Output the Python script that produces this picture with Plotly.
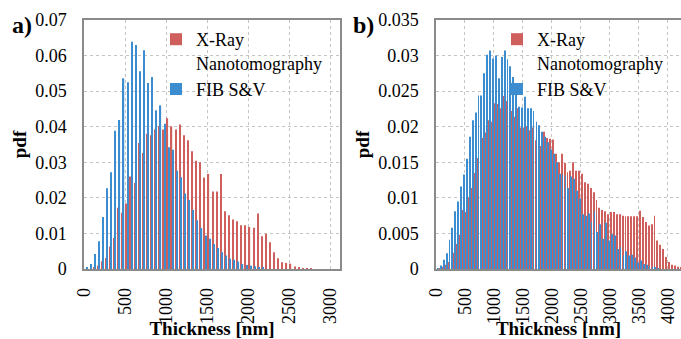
import plotly.graph_objects as go

# ---------------- data ----------------
bin_width_nm = 50  # histogram bin width (nm), both panels

# Panel a) pdf values per 50 nm bin, starting at bin 0-50 nm
xray_a = [0, 0, 0.0003, 0.001, 0.0022, 0.0031, 0.0063, 0.0087, 0.0172, 0.0158,
          0.0184, 0.026, 0.0242, 0.0354, 0.0326, 0.038, 0.0376, 0.0392, 0.0402, 0.0392,
          0.0424, 0.0401, 0.0392, 0.0406, 0.0376, 0.0362, 0.0331, 0.0304, 0.030, 0.0257,
          0.0267, 0.0218, 0.0218, 0.0267, 0.0162, 0.0151, 0.0139, 0.0134, 0.0123, 0.0123,
          0.0118, 0.0116, 0.0156, 0.0092, 0.0099, 0.0075, 0.0047, 0.003, 0.0019, 0.0017,
          0.0015, 0.0007, 0.0005, 0.0002, 0.0002, 0.0001]
fib_a = [0.0003, 0.0014, 0.0042, 0.0078, 0.0146, 0.0227, 0.0272, 0.0389, 0.0419, 0.0536,
         0.0525, 0.0639, 0.063, 0.0556, 0.0615, 0.0523, 0.054, 0.0446, 0.046, 0.0408,
         0.0342, 0.0335, 0.0276, 0.0258, 0.0212, 0.0194, 0.0166, 0.0137, 0.0115, 0.0094,
         0.0085, 0.007, 0.0059, 0.0047, 0.0038, 0.0029, 0.0026, 0.0021, 0.0014, 0.0011,
         0.0009, 0.0008, 0.0005, 0.0003]

# Panel b)
xray_b = [0, 0.0001, 0.0003, 0.0006, 0.001, 0.0015, 0.0023, 0.0035, 0.0048, 0.0083,
          0.008, 0.0101, 0.0114, 0.0135, 0.0156, 0.017, 0.0184, 0.0192, 0.0209, 0.0207,
          0.0233, 0.0232, 0.0226, 0.0243, 0.0236, 0.0208, 0.0222, 0.0214, 0.0226, 0.0199,
          0.0199, 0.0201, 0.0195, 0.0199, 0.0181, 0.0177, 0.0173, 0.0193, 0.0184, 0.0183,
          0.0182, 0.0162, 0.015, 0.0162, 0.0149, 0.0136, 0.0138, 0.015, 0.0138, 0.0138,
          0.0134, 0.0122, 0.012, 0.0114, 0.0108, 0.0097, 0.0086, 0.0083, 0.0081, 0.0077,
          0.008, 0.008, 0.0077, 0.0077, 0.0075, 0.0074, 0.0074, 0.0074, 0.0074, 0.0074,
          0.0082, 0.0073, 0.0066, 0.0061, 0.0063, 0.0075, 0.004, 0.0034, 0.0028, 0.0017,
          0.001, 0.0006, 0.0005, 0.0003, 0.0002]
fib_b = [0.0001, 0.0005, 0.0013, 0.0022, 0.0041, 0.0058, 0.0081, 0.0095, 0.0116, 0.0133,
         0.0155, 0.0186, 0.0209, 0.022, 0.0244, 0.0244, 0.0275, 0.0301, 0.0307, 0.0296,
         0.030, 0.0268, 0.0298, 0.0307, 0.0295, 0.0285, 0.027, 0.0256, 0.0228, 0.0227,
         0.0242, 0.0226, 0.0226, 0.0222, 0.0207, 0.0202, 0.0193, 0.0186, 0.0178, 0.0168,
         0.0162, 0.015, 0.0134, 0.0133, 0.0131, 0.0114, 0.013, 0.0127, 0.011, 0.0099,
         0.0077, 0.0075, 0.0078, 0.0066, 0.0081, 0.0052, 0.0063, 0.0042, 0.0065, 0.004,
         0.0049, 0.0047, 0.0028, 0.0031, 0.0019, 0.0025, 0.0019, 0.002, 0.0016, 0.0009,
         0.0012, 0.0007, 0.0006, 0.0004, 0.0003, 0.0002, 0.0001]

names = ["X-Ray<br>Nanotomography\u00a0\u00a0", "FIB S&V"]
colors = ["#cf5f5d", "#3b8dd0"]


def centers(vals):
    return [bin_width_nm * (k + 0.5) for k in range(len(vals))]


W, H = 681, 339
FONT = "Liberation Serif, Times New Roman, serif"

fig = go.Figure()
fig.add_bar(x=centers(xray_a), y=xray_a, name=names[0], marker_color=colors[0],
            marker_line_width=0, xaxis="x", yaxis="y", legend="legend", offsetgroup="a1")
fig.add_bar(x=centers(fib_a), y=fib_a, name=names[1], marker_color=colors[1],
            marker_line_width=0, xaxis="x", yaxis="y", legend="legend", offsetgroup="a2")
fig.add_bar(x=centers(xray_b), y=xray_b, name=names[0], marker_color=colors[0],
            marker_line_width=0, xaxis="x2", yaxis="y2", legend="legend2", offsetgroup="b1")
fig.add_bar(x=centers(fib_b), y=fib_b, name=names[1], marker_color=colors[1],
            marker_line_width=0, xaxis="x2", yaxis="y2", legend="legend2", offsetgroup="b2")

top = 1 - 20 / H
bot = 1 - 269 / H

common_x = dict(showline=True, linecolor="#8a8a8a", linewidth=1.5, mirror=True,
                showgrid=True, gridcolor="#c4c4c4", griddash="dot", gridwidth=1,
                dtick=500, tick0=0, tickangle=-90, ticks="outside", ticklen=10,
                tickcolor="rgba(0,0,0,0)", zeroline=False, automargin=False,
                tickfont=dict(family=FONT, size=18, color="black"),
                title=dict(text="<b>Thickness [nm]</b>", standoff=4,
                           font=dict(family=FONT, size=19, color="black")))
common_y = dict(showline=True, linecolor="#8a8a8a", linewidth=1.5,
                showgrid=True, gridcolor="#c4c4c4", griddash="dot", gridwidth=1,
                ticks="outside", ticklen=12, tickcolor="rgba(0,0,0,0)", zeroline=False,
                automargin=False,
                tickfont=dict(family=FONT, size=18, color="black"),
                title=dict(text="<b>pdf</b>", standoff=4,
                           font=dict(family=FONT, size=19, color="black")))

legend_common = dict(xanchor="left", yanchor="top", bgcolor="rgba(0,0,0,0)",
                     valign="top", itemwidth=30, indentation=-12,
                     font=dict(family=FONT, size=18, color="black"), tracegroupgap=0)

fig.update_layout(
    width=W, height=H, margin=dict(l=0, r=0, t=0, b=0, autoexpand=False),
    paper_bgcolor="white", plot_bgcolor="white",
    barmode="group", bargap=0.4, bargroupgap=0,
    xaxis=dict(common_x, domain=[84 / W, 340 / W], range=[0, 3120], anchor="y"),
    yaxis=dict(common_y, domain=[bot, top], range=[0, 0.07], dtick=0.01, anchor="x", mirror=True),
    xaxis2=dict(common_x, domain=[436 / W, 1.0], range=[0, 4225], anchor="y2"),
    yaxis2=dict(common_y, domain=[bot, top], range=[0, 0.035], dtick=0.005, anchor="x2"),
    legend=dict(legend_common, x=168 / W, y=1 - 21 / H),
    legend2=dict(legend_common, x=509 / W, y=1 - 21 / H),
    annotations=[
        dict(text="<b>a)</b>", x=10 / W, y=1 - 10 / H, xref="paper", yref="paper",
             xanchor="left", yanchor="top", showarrow=False,
             font=dict(family=FONT, size=24, color="black")),
        dict(text="<b>b)</b>", x=351 / W, y=1 - 10 / H, xref="paper", yref="paper",
             xanchor="left", yanchor="top", showarrow=False,
             font=dict(family=FONT, size=24, color="black")),
    ],
)

fig.write_html("out.html")
